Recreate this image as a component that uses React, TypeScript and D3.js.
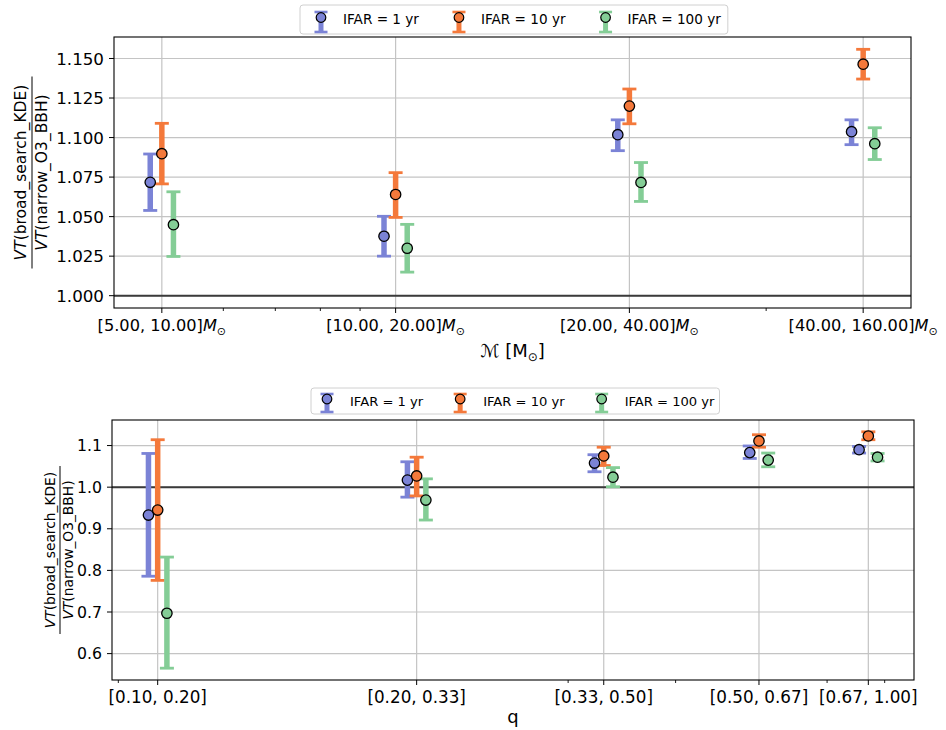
import React from "react";
import * as d3 from "d3";

const W = 946;
const H = 730;
const FONT = "'DejaVu Sans', sans-serif";

const ifarLabels = ["IFAR = 1 yr", "IFAR = 10 yr", "IFAR = 100 yr"];
const ifarColors = ["#7b83d6", "#f4793b", "#84cd96"];

// ---- top panel: chirp-mass bins ----
const massBinLabels = ["[5.00, 10.00]", "[10.00, 20.00]", "[20.00, 40.00]", "[40.00, 160.00]"];
const massBinLower = [5, 10, 20, 40];
const massVT1yr = [1.0717, 1.0376, 1.1018, 1.1037];
const massLo1yr = [1.0539, 1.025, 1.0917, 1.0955];
const massHi1yr = [1.0896, 1.0502, 1.1112, 1.1112];
const massVT10yr = [1.0898, 1.064, 1.1199, 1.1464];
const massLo10yr = [1.0707, 1.0495, 1.1087, 1.137];
const massHi10yr = [1.109, 1.0778, 1.1307, 1.1558];
const massVT100yr = [1.0449, 1.03, 1.0716, 1.0961];
const massLo100yr = [1.0248, 1.0149, 1.0596, 1.0861];
const massHi100yr = [1.0657, 1.0451, 1.0842, 1.1062];
const massYTicks = [1.0, 1.025, 1.05, 1.075, 1.1, 1.125, 1.15];

// ---- bottom panel: mass-ratio bins ----
const qBinLabels = ["[0.10, 0.20]", "[0.20, 0.33]", "[0.33, 0.50]", "[0.50, 0.67]", "[0.67, 1.00]"];
const qBinLower = [0.1, 0.2, 0.33, 0.5, 0.67];
const qVT1yr = [0.933, 1.017, 1.058, 1.083, 1.09];
const qLo1yr = [0.786, 0.976, 1.037, 1.069, 1.082];
const qHi1yr = [1.081, 1.061, 1.078, 1.099, 1.098];
const qVT10yr = [0.945, 1.027, 1.075, 1.111, 1.123];
const qLo10yr = [0.776, 0.979, 1.052, 1.096, 1.114];
const qHi10yr = [1.114, 1.072, 1.096, 1.126, 1.133];
const qVT100yr = [0.697, 0.969, 1.024, 1.065, 1.072];
const qLo100yr = [0.565, 0.921, 1.001, 1.049, 1.063];
const qHi100yr = [0.832, 1.02, 1.047, 1.082, 1.081];
const qYTicks = [0.6, 0.7, 0.8, 0.9, 1.0, 1.1];

type Series = { vt: number[]; lo: number[]; hi: number[] };

function measure(t: string, size: number): number {
  const c = document.createElement("canvas").getContext("2d");
  if (!c) return t.length * size * 0.6;
  c.font = `${size}px "DejaVu Sans"`;
  return c.measureText(t).width;
}

type LegendCfg = {
  x: number; y: number; h: number; fs: number;
  padL: number; gapHT: number; gapTH: number; padR: number;
  capTop: number; capBot: number; dot: number;
};

function Legend({ cfg }: { cfg: LegendCfg }) {
  const items: { hx: number; tx: number }[] = [];
  let hx = cfg.x + cfg.padL;
  let end = hx;
  ifarLabels.forEach((lab) => {
    const tx = hx + cfg.gapHT;
    items.push({ hx, tx });
    end = tx + measure(lab, cfg.fs);
    hx = end + cfg.gapTH;
  });
  const w = end + cfg.padR - cfg.x;
  const cy = cfg.y + cfg.h / 2;
  return (
    <g>
      <rect x={cfg.x} y={cfg.y} width={w} height={cfg.h} rx={3} fill="#fff" stroke="#d0d0d0" strokeWidth={1} />
      {items.map((it, i) => (
        <g key={i}>
          <line x1={it.hx} x2={it.hx} y1={cfg.y + cfg.capTop} y2={cfg.y + cfg.capBot} stroke={ifarColors[i]} strokeWidth={5} />
          <line x1={it.hx - 6.5} x2={it.hx + 6.5} y1={cfg.y + cfg.capTop} y2={cfg.y + cfg.capTop} stroke={ifarColors[i]} strokeWidth={2.6} />
          <line x1={it.hx - 6.5} x2={it.hx + 6.5} y1={cfg.y + cfg.capBot} y2={cfg.y + cfg.capBot} stroke={ifarColors[i]} strokeWidth={2.6} />
          <circle cx={it.hx} cy={cfg.y + cfg.dot} r={4.8} fill={ifarColors[i]} stroke="#000" strokeWidth={1.2} />
          <text x={it.tx} y={cy} dy="0.36em" fontSize={cfg.fs} fontFamily={FONT} fill="#000">{ifarLabels[i]}</text>
        </g>
      ))}
    </g>
  );
}

type PanelCfg = {
  left: number; right: number; top: number; bottom: number;
  lower: number[]; series: Series[]; factor: number;
  yTicks: number[]; yFmt: string; tickFs: number; xTickFs: number;
  xTickLabel: (i: number) => React.ReactNode;
  xLabel: React.ReactNode; xLabelY: number;
  yLabel: { cx: number; cy: number; fs: number; num: number; den: number; barLen: number };
};

function Panel({ c }: { c: PanelCfg }) {
  const factors = [1 / c.factor, 1, c.factor];
  const allX: number[] = [];
  c.lower.forEach((v) => factors.forEach((f) => allX.push(v * f)));
  const lmin = Math.log10(d3.min(allX) as number);
  const lmax = Math.log10(d3.max(allX) as number);
  const mx = 0.05 * (lmax - lmin);
  const x = d3.scaleLog().domain([10 ** (lmin - mx), 10 ** (lmax + mx)]).range([c.left, c.right]);

  const ymin = Math.min(1, d3.min(c.series.flatMap((s) => s.lo)) as number);
  const ymax = Math.max(1, d3.max(c.series.flatMap((s) => s.hi)) as number);
  const my = 0.05 * (ymax - ymin);
  const y = d3.scaleLinear().domain([ymin - my, ymax + my]).range([c.bottom, c.top]);

  const minor = x.ticks().filter((t) => !c.lower.some((m) => Math.abs(m - t) / m < 1e-6));
  const fmt = d3.format(c.yFmt);

  return (
    <g>
      {c.yTicks.map((t, i) => (
        <line key={"gy" + i} x1={c.left} x2={c.right} y1={y(t)} y2={y(t)} stroke="#c4c4c4" strokeWidth={1.2} />
      ))}
      {c.lower.map((t, i) => (
        <line key={"gx" + i} x1={x(t)} x2={x(t)} y1={c.top} y2={c.bottom} stroke="#c4c4c4" strokeWidth={1.2} />
      ))}
      <line x1={c.left} x2={c.right} y1={y(1)} y2={y(1)} stroke="#3a3a3a" strokeWidth={2} />
      {c.series.map((s, si) => (
        <g key={"s" + si}>
          {c.lower.map((v, i) => {
            const px = x(v * factors[si]);
            return (
              <g key={i}>
                <line x1={px} x2={px} y1={y(s.lo[i])} y2={y(s.hi[i])} stroke={ifarColors[si]} strokeWidth={5.5} />
                <line x1={px - 7} x2={px + 7} y1={y(s.lo[i])} y2={y(s.lo[i])} stroke={ifarColors[si]} strokeWidth={2.8} />
                <line x1={px - 7} x2={px + 7} y1={y(s.hi[i])} y2={y(s.hi[i])} stroke={ifarColors[si]} strokeWidth={2.8} />
              </g>
            );
          })}
        </g>
      ))}
      {c.series.map((s, si) => (
        <g key={"m" + si}>
          {c.lower.map((v, i) => (
            <circle key={i} cx={x(v * factors[si])} cy={y(s.vt[i])} r={5.2} fill={ifarColors[si]} stroke="#000" strokeWidth={1.3} />
          ))}
        </g>
      ))}
      <rect x={c.left} y={c.top} width={c.right - c.left} height={c.bottom - c.top} fill="none" stroke="#000" strokeWidth={1.1} />
      {c.yTicks.map((t, i) => (
        <g key={"yt" + i}>
          <line x1={c.left - 5} x2={c.left} y1={y(t)} y2={y(t)} stroke="#000" strokeWidth={1} />
          <text x={c.left - 10} y={y(t)} dy="0.36em" textAnchor="end" fontSize={c.tickFs} fontFamily={FONT} fill="#000">{fmt(t)}</text>
        </g>
      ))}
      {minor.map((t, i) => (
        <line key={"mn" + i} x1={x(t)} x2={x(t)} y1={c.bottom} y2={c.bottom + 3} stroke="#000" strokeWidth={0.9} />
      ))}
      {c.lower.map((t, i) => (
        <g key={"xt" + i}>
          <line x1={x(t)} x2={x(t)} y1={c.bottom} y2={c.bottom + 5} stroke="#000" strokeWidth={1} />
          <text x={x(t)} y={c.bottom + 23} textAnchor="middle" fontSize={c.xTickFs} fontFamily={FONT} fill="#000">{c.xTickLabel(i)}</text>
        </g>
      ))}
      <text x={(c.left + c.right) / 2} y={c.xLabelY} textAnchor="middle" fontSize={18} fontFamily={FONT} fill="#000">{c.xLabel}</text>
      <g transform={`translate(${c.yLabel.cx},${c.yLabel.cy}) rotate(-90)`}>
        <text x={0} y={c.yLabel.num} textAnchor="middle" fontSize={c.yLabel.fs} fontFamily={FONT} fill="#000">
          <tspan fontStyle="italic">VT</tspan>(broad_search_KDE)
        </text>
        <line x1={-c.yLabel.barLen / 2} x2={c.yLabel.barLen / 2} y1={0} y2={0} stroke="#000" strokeWidth={1} />
        <text x={0} y={c.yLabel.den} textAnchor="middle" fontSize={c.yLabel.fs} fontFamily={FONT} fill="#000">
          <tspan fontStyle="italic">VT</tspan>(narrow_O3_BBH)
        </text>
      </g>
    </g>
  );
}

export default function App() {
  const massSeries: Series[] = [
    { vt: massVT1yr, lo: massLo1yr, hi: massHi1yr },
    { vt: massVT10yr, lo: massLo10yr, hi: massHi10yr },
    { vt: massVT100yr, lo: massLo100yr, hi: massHi100yr },
  ];
  const qSeries: Series[] = [
    { vt: qVT1yr, lo: qLo1yr, hi: qHi1yr },
    { vt: qVT10yr, lo: qLo10yr, hi: qHi10yr },
    { vt: qVT100yr, lo: qLo100yr, hi: qHi100yr },
  ];

  const top: PanelCfg = {
    left: 114, right: 911, top: 37, bottom: 308,
    lower: massBinLower, series: massSeries, factor: 1.035,
    yTicks: massYTicks, yFmt: ".3f", tickFs: 16.7, xTickFs: 16.2,
    xTickLabel: (i) => (
      <>
        {massBinLabels[i]}
        <tspan fontStyle="italic">M</tspan>
        <tspan fontSize={11} dy={3.5}>⊙</tspan>
      </>
    ),
    xLabel: (
      <>
        <tspan fontStyle="italic">ℳ</tspan> [M<tspan fontSize={12} dy={3.5}>⊙</tspan><tspan dy={-3.5}>]</tspan>
      </>
    ),
    xLabelY: 357,
    yLabel: { cx: 32, cy: 172.5, fs: 15.5, num: -6.5, den: 15, barLen: 192 },
  };

  const bottom: PanelCfg = {
    left: 112, right: 914, top: 420, bottom: 680,
    lower: qBinLower, series: qSeries, factor: 1.025,
    yTicks: qYTicks, yFmt: ".1f", tickFs: 15.7, xTickFs: 16.8,
    xTickLabel: (i) => qBinLabels[i],
    xLabel: "q",
    xLabelY: 723,
    yLabel: { cx: 60, cy: 550, fs: 13.8, num: -5.5, den: 12.5, barLen: 168 },
  };

  return (
    <svg width={W} height={H} viewBox={`0 0 ${W} ${H}`} style={{ position: "absolute", left: 0, top: 0, background: "#fff" }}>
      <rect x={0} y={0} width={W} height={H} fill="#fff" />
      <Panel c={top} />
      <Panel c={bottom} />
      <Legend cfg={{ x: 300, y: 5, h: 29, fs: 13.6, padL: 21, gapHT: 22, gapTH: 40, padR: 7, capTop: 7, capBot: 27, dot: 12.5 }} />
      <Legend cfg={{ x: 311, y: 388, h: 26, fs: 13.1, padL: 16, gapHT: 23, gapTH: 37, padR: 5, capTop: 6, capBot: 24, dot: 11 }} />
    </svg>
  );
}
